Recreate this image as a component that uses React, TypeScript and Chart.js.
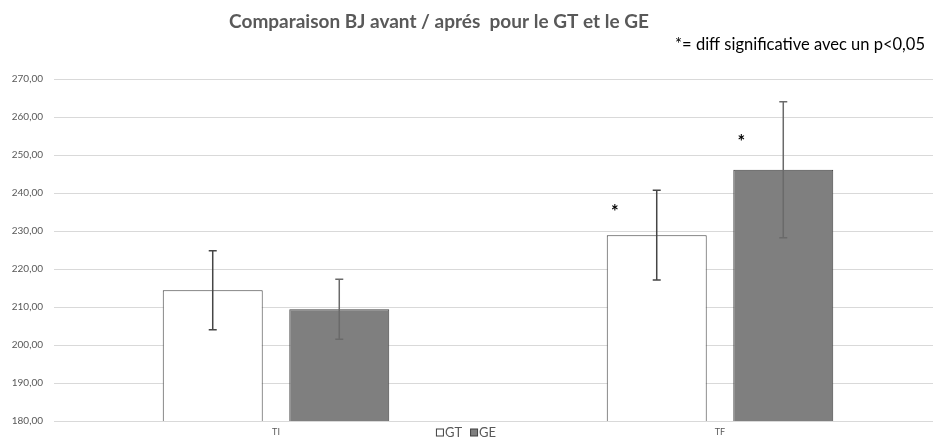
import React, { useEffect, useRef } from "react";
import { Chart, registerables } from "chart.js";

Chart.register(...registerables);

const categories = ["TI", "TF"];
const seriesNames = ["GT", "GE"];
const gtMeans = [214.4, 228.9];
const geMeans = [209.4, 246.1];
const gtErrors = [10.4, 11.8];
const geErrors = [7.9, 17.9];
// value at which a significance asterisk is drawn (null = none)
const gtStars: (number | null)[] = [null, 236];
const geStars: (number | null)[] = [null, 254.5];
const yTicks = [180, 190, 200, 210, 220, 230, 240, 250, 260, 270];

const titleText = "Comparaison BJ avant / aprés  pour le GT et le GE";
const noteText = "*= diff significative avec un p<0,05";

const FONT = "Lato, 'Open Sans', sans-serif";

const errorBarPlugin = {
  id: "errorBars",
  afterDatasetsDraw(chart: any) {
    const ctx = chart.ctx;
    const y = chart.scales.y;
    chart.data.datasets.forEach((ds: any, i: number) => {
      const meta = chart.getDatasetMeta(i);
      meta.data.forEach((el: any, j: number) => {
        const v = ds.data[j];
        const e = ds.errors[j];
        const top = y.getPixelForValue(v + e);
        const bot = y.getPixelForValue(v - e);
        ctx.save();
        ctx.strokeStyle = ds.errorColor;
        ctx.lineWidth = 1.5;
        ctx.beginPath();
        ctx.moveTo(el.x, top);
        ctx.lineTo(el.x, bot);
        ctx.moveTo(el.x - 4, top);
        ctx.lineTo(el.x + 4, top);
        ctx.moveTo(el.x - 4, bot);
        ctx.lineTo(el.x + 4, bot);
        ctx.stroke();
        const s = ds.stars[j];
        if (s !== null && s !== undefined) {
          ctx.fillStyle = "#000";
          ctx.font = `bold 18px ${FONT}`;
          ctx.textAlign = "center";
          ctx.textBaseline = "middle";
          ctx.fillText("*", el.x - el.width / 2 + 8, y.getPixelForValue(s) + 4);
        }
        ctx.restore();
      });
    });
  },
};

const textPlugin = {
  id: "texts",
  afterDraw(chart: any) {
    const ctx = chart.ctx;
    ctx.save();
    ctx.fillStyle = "#595959";
    ctx.font = `bold 19px ${FONT}`;
    ctx.textAlign = "center";
    ctx.textBaseline = "middle";
    ctx.fillText(titleText, 439, 22);
    ctx.fillStyle = "#000";
    ctx.font = `16.5px ${FONT}`;
    ctx.textAlign = "right";
    ctx.fillText(noteText, 925, 45);

    // legend
    ctx.font = `13px ${FONT}`;
    ctx.textAlign = "left";
    const sq = 7;
    const items = chart.data.datasets.map((ds: any) => ({
      label: ds.label,
      fill: ds.backgroundColor,
      w: ctx.measureText(ds.label).width,
    }));
    let total = 0;
    items.forEach((it: any, k: number) => {
      total += sq + 2 + it.w + (k < items.length - 1 ? 8 : 0);
    });
    let x = 466 - total / 2;
    const ly = 432;
    items.forEach((it: any) => {
      ctx.fillStyle = it.fill;
      ctx.fillRect(x + 0.5, ly - sq / 2 + 0.5, sq, sq);
      ctx.strokeStyle = "#404040";
      ctx.lineWidth = 1;
      ctx.strokeRect(x + 0.5, ly - sq / 2 + 0.5, sq, sq);
      x += sq + 2;
      ctx.fillStyle = "#595959";
      ctx.fillText(it.label, x, ly + 1);
      x += it.w + 8;
    });
    ctx.restore();
  },
};

export default function App() {
  const ref = useRef<HTMLCanvasElement>(null);
  useEffect(() => {
    if (!ref.current) return;
    const chart = new Chart(ref.current, {
      type: "bar",
      data: {
        labels: categories,
        datasets: [
          {
            label: seriesNames[0],
            data: gtMeans,
            errors: gtErrors,
            stars: gtStars,
            errorColor: "#454545",
            backgroundColor: "#ffffff",
            borderColor: "#404040",
            borderWidth: 1,
            categoryPercentage: 0.57,
            barPercentage: 0.79,
          } as any,
          {
            label: seriesNames[1],
            data: geMeans,
            errors: geErrors,
            stars: geStars,
            errorColor: "#6a6a6a",
            backgroundColor: "#7f7f7f",
            borderColor: "#404040",
            borderWidth: 1,
            categoryPercentage: 0.57,
            barPercentage: 0.79,
          } as any,
        ],
      },
      options: {
        responsive: false,
        animation: false,
        layout: { padding: { top: 79, right: 3, left: 0, bottom: 0 } },
        plugins: {
          legend: { display: false },
          title: { display: false },
          tooltip: { enabled: false },
        },
        scales: {
          x: {
            grid: { display: false, drawTicks: false },
            border: { display: false },
            ticks: {
              font: { family: FONT, size: 9 },
              color: "#595959",
              padding: 6,
            },
            afterFit(scale: any) {
              scale.height = 18;
            },
          },
          y: {
            min: 180,
            max: 270,
            afterBuildTicks(scale: any) {
              scale.ticks = yTicks.map((v) => ({ value: v }));
            },
            grid: { color: "#d9d9d9", lineWidth: 1, drawTicks: false },
            border: { display: false },
            ticks: {
              font: { family: FONT, size: 10 },
              color: "#595959",
              padding: 11,
              callback: (v: any) => Number(v).toFixed(2).replace(".", ","),
            },
            afterFit(scale: any) {
              scale.width = 54;
            },
          },
        },
      },
      plugins: [errorBarPlugin, textPlugin],
    });
    return () => chart.destroy();
  }, []);

  return (
    <div
      style={{
        position: "fixed",
        left: 0,
        top: 0,
        width: 933,
        height: 439,
        overflow: "hidden",
        background: "#fff",
      }}
    >
      <canvas ref={ref} width={945} height={439} style={{ display: "block" }} />
    </div>
  );
}
